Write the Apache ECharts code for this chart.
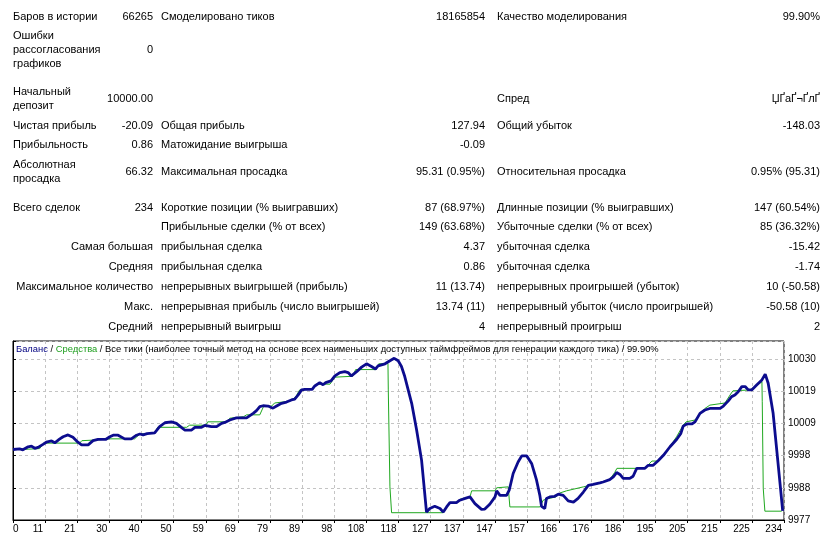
<!DOCTYPE html>
<html>
<head>
<meta charset="utf-8">
<script src="https://cdn.jsdelivr.net/npm/echarts@6/dist/echarts.min.js"></script>
<style>
  html, body { margin: 0; padding: 0; background: #fff; }
  #report { width: 839px; height: 542px; }
</style>
</head>
<body>
<div id="report"></div>
<script>
// tick labels
const xTicks = [0, 11, 21, 30, 40, 50, 59, 69, 79, 89, 98, 108, 118, 127, 137, 147, 157, 166, 176, 186, 195, 205, 215, 225, 234];
const yTicks = [9977, 9988, 9998, 10009, 10019, 10030];

// balance (blue): trade number / value
const balanceTrade = [0, 2.0, 3.0, 4.6, 5.6, 6.6, 7.6, 9.1, 10.1, 11.7, 12.7, 14.0, 15.2, 16.7, 18.2, 19.7, 20.8, 22.8, 24.3, 25.8,
  28.1, 29.4, 30.4, 31.9, 33.9, 35.9, 37.5, 38.5, 39.5, 40.7, 43.0, 44.5, 46.1, 48.1, 49.6, 51.1, 52.1, 54.2, 55.2, 57.2,
  58.2, 60.2, 61.8, 63.3, 64.3, 65.8, 67.8, 70.9, 72.9, 73.9, 74.9, 75.9, 77.4, 78.9, 80.0, 81.5, 83.0, 84.5, 85.5, 86.5,
  87.6, 88.6, 90.8, 91.6, 93.1, 94.1, 94.9, 96.5, 97.7, 99.2, 100.7, 101.7, 102.7, 104.3, 105.8, 107.3, 108.8, 110.0, 110.8, 112.9,
  114.4, 115.7, 116.9, 117.9, 118.9, 121.0, 122.5, 124.0, 125.5, 126.5, 128.0, 129.6, 130.6, 131.6, 132.6, 134.6, 135.6, 137.7, 138.7, 140.2,
  142.2, 143.2, 144.7, 146.3, 146.8, 147.8, 149.8, 150.6, 151.8, 153.3, 154.4, 155.9, 157.4, 158.9, 159.9, 160.4, 161.4, 161.9, 162.9, 164.4,
  165.5, 167.0, 168.5, 170.1, 171.5, 173.1, 174.6, 176.1, 178.1, 179.1, 181.1, 182.2, 183.2, 184.2, 185.2, 187.2, 188.2, 189.3, 191.8, 192.8,
  194.3, 195.8, 197.4, 199.4, 201.4, 202.7, 203.4, 204.5, 206.0, 207.0, 208.5, 210.0, 211.5, 214.6, 215.6, 217.1, 218.1, 219.1, 220.1, 221.2,
  222.2, 223.2, 224.2, 225.7, 227.3, 228.3, 229.2, 230.7, 231.8, 232.8, 233.6];
const balanceValue = [10000.2, 10000.4, 10000.1, 10001.1, 10001.3, 10000.6, 10000.9, 10001.9, 10002.6, 10003.0, 10002.4, 10003.5, 10004.4, 10005.0, 10004.2, 10002.6, 10001.7, 10001.7, 10003.1, 10003.5,
  10003.5, 10004.4, 10004.9, 10004.9, 10003.7, 10003.7, 10004.9, 10005.3, 10005.0, 10005.4, 10005.7, 10007.7, 10009.0, 10009.3, 10008.8, 10007.5, 10006.6, 10006.6, 10007.5, 10007.5,
  10008.1, 10007.7, 10007.7, 10008.8, 10009.1, 10009.9, 10010.6, 10010.6, 10012.1, 10013.0, 10014.3, 10014.6, 10014.5, 10013.8, 10014.5, 10015.4, 10015.8, 10016.5, 10016.8, 10018.1,
  10019.8, 10020.0, 10020.0, 10021.1, 10022.2, 10021.5, 10022.2, 10022.8, 10024.4, 10025.5, 10025.8, 10025.5, 10024.4, 10025.8, 10027.3, 10028.4, 10027.5, 10026.7, 10027.7, 10028.4,
  10029.4, 10030.2, 10029.4, 10027.5, 10024.2, 10015.4, 10006.6, 9996.7, 9979.6, 9980.8, 9981.5, 9980.8, 9979.6, 9981.3, 9982.7, 9982.7, 9983.5, 9984.3, 9984.6, 9982.4,
  9980.5, 9980.6, 9982.2, 9984.6, 9986.6, 9985.1, 9985.1, 9986.8, 9992.3, 9996.1, 9998.1, 9998.1, 9995.6, 9990.1, 9985.1, 9981.5, 9980.8, 9984.1, 9984.6, 9984.8,
  9985.5, 9985.1, 9983.3, 9982.9, 9984.1, 9986.2, 9988.4, 9988.7, 9989.2, 9989.5, 9990.3, 9991.2, 9992.6, 9992.0, 9990.7, 9990.7, 9991.4, 9994.0, 9994.0, 9995.0,
  9995.0, 9996.5, 9998.3, 10001.1, 10003.5, 10005.5, 10007.9, 10008.6, 10008.6, 10009.3, 10012.1, 10013.2, 10013.7, 10013.7, 10014.5, 10016.2, 10017.6, 10018.1, 10019.2, 10020.9,
  10020.9, 10019.8, 10019.8, 10021.4, 10023.1, 10025.0, 10022.0, 10012.1, 10000.0, 9989.0, 9980.0];

// equity (green)
const equityTrade = [0, 4.6, 5.1, 8.1, 9.3, 20.2, 20.9, 26.3, 29.4, 36.9, 38.5, 43.0, 43.9, 52.7, 53.6, 58.5, 59.1, 64.9, 65.8, 70.0,
  70.9, 74.9, 76.1, 78.5, 79.4, 84.0, 85.8, 87.0, 91.0, 92.2, 96.2, 97.7, 103.1, 104.0, 110.1, 111.0, 113.8, 113.9, 114.4, 114.9,
  130.6, 132.6, 134.6, 135.6, 138.7, 139.2, 146.3, 146.8, 150.3, 150.8, 159.9, 160.9, 161.9, 164.8, 166.0, 168.0, 173.1, 175.1, 178.1, 181.1,
  182.6, 183.3, 191.8, 192.7, 193.9, 195.7, 197.6, 201.4, 203.4, 204.3, 207.0, 210.0, 211.5, 216.1, 217.6, 218.5, 223.7, 227.3, 227.4, 227.7,
  228.2, 233.3];
const equityValue = [10000.2, 10000.3, 10000.5, 10000.5, 10002.3, 10002.3, 10003.1, 10003.4, 10003.7, 10003.7, 10005.3, 10005.6, 10007.5, 10007.5, 10008.2, 10008.2, 10009.3, 10009.3, 10010.5, 10011.0,
  10011.6, 10011.6, 10014.5, 10014.5, 10015.5, 10016.1, 10017.5, 10019.8, 10020.0, 10021.7, 10021.7, 10024.0, 10024.3, 10026.5, 10026.5, 10028.4, 10028.5, 10019.8, 9987.9, 9979.4,
  9979.4, 9982.8, 9982.8, 9983.8, 9984.6, 9986.6, 9986.6, 9987.6, 9987.9, 9981.3, 9981.3, 9983.5, 9983.9, 9984.6, 9985.9, 9986.6, 9987.9, 9988.4, 9989.1, 9990.3,
  9992.6, 9994.0, 9994.0, 9995.0, 9996.4, 9996.4, 9998.3, 10004.4, 10008.2, 10009.3, 10009.9, 10013.7, 10014.8, 10015.5, 10018.1, 10019.5, 10019.8, 10022.5, 10015.9, 9987.4,
  9979.9, 9979.9];

// report table: label / value pairs for the three columns
const statRows = [
  ['Баров в истории', '66265', 'Смоделировано тиков', '18165854', 'Качество моделирования', '99.90%'],
  ['Ошибки\nрассогласования\nграфиков', '0', '', '', '', ''],
  ['Начальный\nдепозит', '10000.00', '', '', 'Спред', 'ЏҐаҐ¬ҐлҐ'],
  ['Чистая прибыль', '-20.09', 'Общая прибыль', '127.94', 'Общий убыток', '-148.03'],
  ['Прибыльность', '0.86', 'Матожидание выигрыша', '-0.09', '', ''],
  ['Абсолютная\nпросадка', '66.32', 'Максимальная просадка', '95.31 (0.95%)', 'Относительная просадка', '0.95% (95.31)'],
  ['Всего сделок', '234', 'Короткие позиции (% выигравших)', '87 (68.97%)', 'Длинные позиции (% выигравших)', '147 (60.54%)'],
  ['', '', 'Прибыльные сделки (% от всех)', '149 (63.68%)', 'Убыточные сделки (% от всех)', '85 (36.32%)'],
  ['Самая большая', '', 'прибыльная сделка', '4.37', 'убыточная сделка', '-15.42'],
  ['Средняя', '', 'прибыльная сделка', '0.86', 'убыточная сделка', '-1.74'],
  ['Максимальное количество', '', 'непрерывных выигрышей (прибыль)', '11 (13.74)', 'непрерывных проигрышей (убыток)', '10 (-50.58)'],
  ['Макс.', '', 'непрерывная прибыль (число выигрышей)', '13.74 (11)', 'непрерывный убыток (число проигрышей)', '-50.58 (10)'],
  ['Средний', '', 'непрерывный выигрыш', '4', 'непрерывный проигрыш', '2']
];
const rowY = [17, 50, 99, 126, 145, 172, 208, 227, 247, 267, 287, 307, 327];

const chart = echarts.init(document.getElementById('report'));

const FONT = '11px "Liberation Sans", Arial, sans-serif';
const CAP_FONT = '9.4px "Liberation Sans", Arial, sans-serif';
const xStep = 9.75;
const yMin = 9977, yStep = 10.6;

function txt(x, y, s, align) {
  return {
    type: 'text', x: x, y: y, silent: true,
    style: {
      text: s, font: FONT, fill: '#000', lineHeight: 14,
      align: align, textAlign: align, verticalAlign: 'middle', textVerticalAlign: 'middle'
    }
  };
}

const graphics = [];
statRows.forEach(function (r, i) {
  const y = rowY[i];
  // the lower rows have their first label pushed to the right
  if (r[0]) graphics.push(txt(i >= 8 ? 153 : 13, y, r[0], i >= 8 ? 'right' : 'left'));
  if (r[1]) graphics.push(txt(153, y, r[1], 'right'));
  if (r[2]) graphics.push(txt(161, y, r[2], 'left'));
  if (r[3]) graphics.push(txt(485, y, r[3], 'right'));
  if (r[4]) graphics.push(txt(497, y, r[4], 'left'));
  if (r[5]) graphics.push(txt(820, y, r[5], 'right'));
});

// caption inside the chart frame
graphics.push({
  type: 'text', x: 16, y: 349, silent: true, z: 100,
  style: {
    text: '{b|Баланс}{k| / }{g|Средства}{k| / Все тики (наиболее точный метод на основе всех наименьших доступных таймфреймов для генерации каждого тика) / 99.90%}',
    font: CAP_FONT,
    verticalAlign: 'middle', textVerticalAlign: 'middle',
    rich: {
      b: { fill: '#000080', font: CAP_FONT },
      g: { fill: '#1e9e1e', font: CAP_FONT },
      k: { fill: '#000', font: CAP_FONT }
    }
  }
});

const dash = { color: '#c4c4c4', type: [3, 3], width: 1 };

chart.setOption({
  animation: false,
  backgroundColor: '#fff',
  grid: {
    left: 13, top: 341, width: 771, height: 179,
    show: true, borderColor: '#000', borderWidth: 1
  },
  xAxis: {
    type: 'value', min: 0, max: 234, interval: xStep,
    axisLine: { show: true, lineStyle: { color: '#000' } },
    axisTick: { show: true, length: 3, lineStyle: { color: '#000' } },
    splitLine: { show: true, lineStyle: dash },
    axisLabel: {
      color: '#000', fontSize: 10, fontFamily: 'Liberation Sans', margin: 4,
      align: 'right', alignMinLabel: 'left', showMinLabel: true, showMaxLabel: true,
      padding: [0, 2, 0, 0],
      formatter: function (v) {
        const k = Math.round(v / xStep);
        return xTicks[k] !== undefined ? String(xTicks[k]) : '';
      }
    }
  },
  yAxis: {
    type: 'value', position: 'right', min: yMin, max: 10035.9, interval: yStep,
    axisLine: { show: true, lineStyle: { color: '#000' } },
    axisTick: { show: true, length: 3, lineStyle: { color: '#000' } },
    splitLine: { show: true, lineStyle: dash },
    axisLabel: {
      color: '#000', fontSize: 10, fontFamily: 'Liberation Sans', margin: 4,
      padding: [3, 0, 0, 0],
      formatter: function (v) {
        const k = (v - yMin) / yStep;
        const r = Math.round(k);
        if (Math.abs(k - r) > 0.01 || yTicks[r] === undefined) return '';
        return String(yTicks[r]);
      }
    }
  },
  series: [
    {
      name: 'Средства', type: 'line', symbol: 'none',
      data: equityTrade.map(function (t, i) { return [t, equityValue[i]]; }),
      lineStyle: { color: '#20a820', width: 1 }
    },
    {
      name: 'Баланс', type: 'line', symbol: 'none',
      data: balanceTrade.map(function (t, i) { return [t, balanceValue[i]]; }),
      lineStyle: { color: '#0c0c8e', width: 2.8 }
    }
  ],
  graphic: graphics
});
</script>
</body>
</html>
